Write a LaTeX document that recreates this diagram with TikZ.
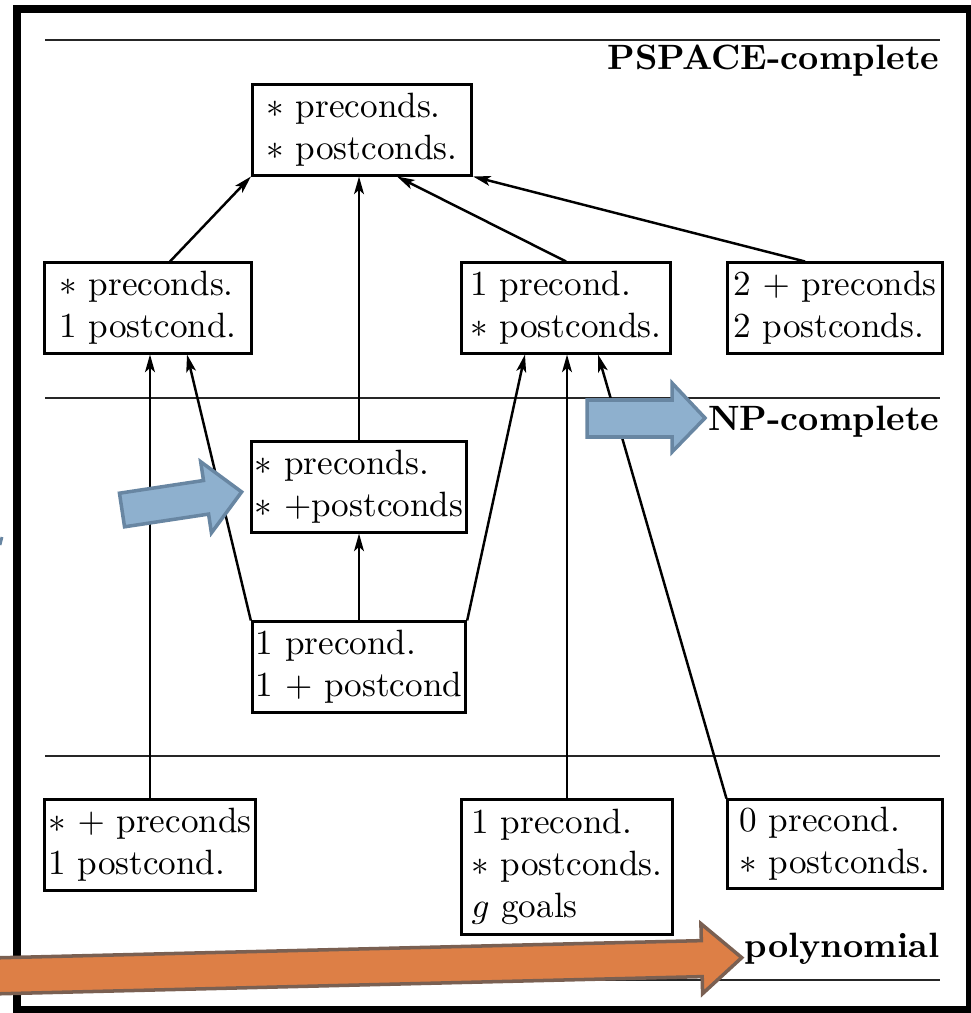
\documentclass[tikz,border=0pt]{standalone}
\usetikzlibrary{arrows.meta}
\definecolor{npblue}{RGB}{142,176,206}
\definecolor{npblueline}{RGB}{104,134,162}
\definecolor{polyorange}{RGB}{221,127,70}
\definecolor{polyline}{RGB}{122,96,82}
\begin{document}
\begin{tikzpicture}[x=0.01cm,y=-0.01cm,
  cell/.style={draw,line width=0.85pt,align=left,inner xsep=1pt,inner ysep=0pt,minimum height=0.9cm},
  up/.style={-{Stealth[length=5pt,width=2.8pt,inset=1.2pt]},line width=0.7pt},
  rule/.style={line width=0.5pt,black!85},
  classlabel/.style={anchor=base east,inner sep=0pt,font=\bfseries},
  blockarrow/.style={draw=npblueline,fill=npblue,line width=1pt,line join=miter},
  polyarrow/.style={draw=polyline,fill=polyorange,line width=1pt,line join=miter}]
\useasboundingbox (0,0) rectangle (971,1013);
\draw[line width=0.08cm] (17,9) rectangle (970,1010);
% complexity classes
\draw[rule] (45,40) -- (940,40);
\node[classlabel] (pspace) at (940,70) {PSPACE-complete};
\draw[rule] (45,398) -- (940,398);
\node[classlabel] (npc) at (940,430) {NP-complete};
\draw[rule] (45,756) -- (940,756);
\node[classlabel] (poly) at (940,957) {polynomial};
\draw[rule] (45,980) -- (940,980);
% planning problems
\node[cell,minimum width=2.19cm] (top) at (362,130) {$*$ preconds.\\ $*$ postconds.};
\node[cell,minimum width=2.07cm] (left2) at (148,308) {$*$ preconds.\\ 1 postcond.};
\node[cell,minimum width=2.08cm] (mid2) at (566,308) {1 precond.\\ $*$ postconds.};
\node[cell,minimum width=2.14cm] (right2) at (835,308) {2 $+$ preconds\\ 2 postconds.};
\node[cell,minimum width=2.12cm] (np) at (359,487) {$*$ preconds.\\ $*$ $+$postconds};
\node[cell,minimum width=2.12cm] (one) at (359,667) {1 precond.\\ 1 $+$ postcond};
\node[cell,minimum width=2.10cm] (bl) at (150,845) {$*$ $+$ preconds\\ 1 postcond.};
\node[cell,minimum width=2.10cm,minimum height=1.35cm] (bm) at (567,867) {1 precond.\\ $*$ postconds.\\ $g$ goals};
\node[cell,minimum width=2.14cm,minimum height=0.88cm] (br) at (835,844) {0 precond.\\ $*$ postconds.};
\draw[up] ([xshift=0.22cm]left2.north) -- (top.south west);
\draw[up] (np.north) -- (np.north |- top.south);
\draw[up] (mid2.north) -- ([xshift=0.35cm]top.south);
\draw[up] ([xshift=-0.30cm]right2.north) -- (top.south east);
\draw[up] (one.north) -- (np.south);
\draw[up] (one.north west) -- ([xshift=0.39cm]left2.south);
\draw[up] (one.north east) -- ([xshift=-0.41cm]mid2.south);
\draw[up] (bl.north) -- (bl.north |- left2.south);
\draw[up] (bm.north) -- (bm.north |- mid2.south);
\draw[up] (br.north west) -- ([xshift=0.32cm]mid2.south);
% block arrows
\begin{scope}[shift={(122,510)},rotate=8.6]
\draw[blockarrow] (0,-17) -- (85,-17) -- (85,-36) -- (121,0) -- (85,36) -- (85,17) -- (0,17) -- cycle;
\end{scope}
\draw[blockarrow] (587,400) -- (672,400) -- (672,383) -- (705,418) -- (672,452) -- (672,437) -- (587,437) -- cycle;
\begin{scope}[shift={(-10,976)},rotate=1.4]
\draw[polyarrow] (0,-18) -- (712,-18) -- (712,-35) -- (752,0) -- (712,35) -- (712,18) -- (0,18) -- cycle;
\end{scope}
\draw[npblueline,line width=0.8pt] (2,537) -- (0,545);
\end{tikzpicture}
\end{document}
